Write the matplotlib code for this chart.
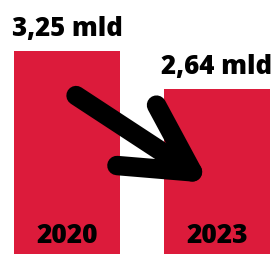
import matplotlib.pyplot as plt

years = ['2020', '2023']
values = [3.25, 2.64]
labels = ['3,25 mld', '2,64 mld']

RED = '#dc1b3b'

fig = plt.figure(figsize=(2.73, 2.55), dpi=100)
ax = fig.add_axes([0, 0, 1, 1])

x = list(range(len(years)))
ax.bar(x, values, width=0.707, color=RED)

for i, (v, lab, yr) in enumerate(zip(values, labels, years)):
    ax.text(i, v + 0.25, lab, ha='center', va='baseline', fontsize=18.5,
            fontweight='heavy', family='Open Sans', color='black')
    ax.text(i, 0.19, yr, ha='center', va='baseline', fontsize=19,
            fontweight='heavy', family='Open Sans', color='black')

# hand-drawn looking arrow from 2020 bar down to 2023 bar
ax.annotate('', xy=(x[1] - 0.05, values[1] * 0.43),
            xytext=(x[0] + 0.06, values[0] * 0.78),
            arrowprops=dict(arrowstyle='->,head_length=4.8,head_width=2.6',
                            mutation_scale=10, lw=14, color='black',
                            shrinkA=0, shrinkB=0, capstyle='round',
                            joinstyle='round'))

ax.set_xlim(-0.447, 1.373)
ax.set_ylim(0, 4.08)
ax.axis('off')

fig.savefig('out.png', dpi=100)
